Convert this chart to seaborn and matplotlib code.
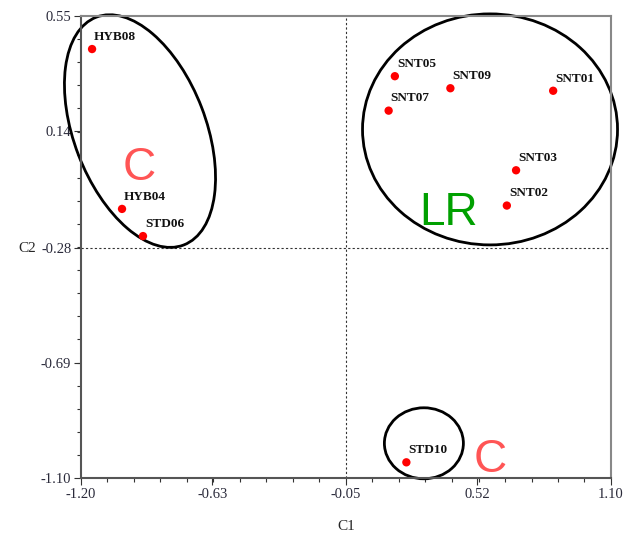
import numpy as np
import pandas as pd
import matplotlib
matplotlib.use('Agg')
import matplotlib.pyplot as plt
import matplotlib.transforms as mtransforms
from matplotlib.patches import Ellipse
import seaborn as sns

# du lieu doc tu hinh
labels = ['HYB08', 'HYB04', 'STD06', 'SNT05', 'SNT09', 'SNT01', 'SNT07', 'SNT03', 'SNT02', 'STD10']
c1 = [-1.152, -1.022, -0.931, 0.162, 0.403, 0.849, 0.135, 0.688, 0.648, 0.212]
c2 = [0.432, -0.139, -0.236, 0.335, 0.292, 0.283, 0.212, -0.001, -0.127, -1.044]

x_ticks = [-1.20, -0.63, -0.05, 0.52, 1.10]
y_ticks = [-1.10, -0.69, -0.28, 0.14, 0.55]

# nhom: tam (du lieu), kich thuoc (inch), goc
group_names = ['C', 'LR', 'C']
group_centers = [(-0.944, 0.139), (0.575, 0.145), (0.288, -0.976)]
group_sizes = [(2.44, 1.32), (2.55, 2.31), (0.79, 0.71)]
group_angles = [-69, 0, 0]
group_text_pos = [(-0.948, 0.007), (0.393, -0.152), (0.575, -1.036)]
group_colors = ['#FF5555', '#00A000', '#FF5555']

df = pd.DataFrame({'C1': c1, 'C2': c2, 'label': labels})

sns.set_style('white')
plt.rcParams['font.family'] = ['Liberation Serif', 'DejaVu Serif']

fig = plt.figure(figsize=(6.35, 5.33), dpi=100)
ax = fig.add_axes([81 / 635, 1 - 478 / 533, 530 / 635, 462 / 533])

sns.scatterplot(data=df, x='C1', y='C2', color='#FF0000', s=36, edgecolor='none', ax=ax, zorder=3)

for lb, x, y in zip(labels, c1, c2):
    ax.annotate(lb, (x, y), xytext=(1.5, 4.5), textcoords='offset points',
                fontsize=9.5, fontweight='bold', color='#111111', ha='left', va='bottom')

# duong cat
ax.axvline(-0.05, color='#333333', lw=0.8, ls=(0, (2, 2)), zorder=1)
ax.axhline(-0.28, color='#333333', lw=0.8, ls=(0, (2, 2)), zorder=1)

# ellipse cac nhom
for (cx, cy), (w, h), ang in zip(group_centers, group_sizes, group_angles):
    tr = fig.dpi_scale_trans + mtransforms.ScaledTranslation(cx, cy, ax.transData)
    ax.add_patch(Ellipse((0, 0), w, h, angle=ang, transform=tr, fill=False,
                         edgecolor='black', lw=2, zorder=2, clip_on=False))

for name, (tx, ty), col in zip(group_names, group_text_pos, group_colors):
    ax.text(tx, ty, name, color=col, fontsize=33, family='Liberation Sans',
            ha='center', va='center', zorder=4)

ax.set_xlim(-1.20, 1.10)
ax.set_ylim(-1.10, 0.55)
ax.set_xticks(x_ticks)
ax.set_xticklabels(['%.2f' % v for v in x_ticks])
ax.set_yticks(y_ticks)
ax.set_yticklabels(['%.2f' % v for v in y_ticks])
ax.set_xticks(np.linspace(-1.20, 1.10, 21), minor=True)
ax.set_yticks(np.linspace(-1.10, 0.55, 21), minor=True)
ax.tick_params(which='major', direction='out', length=5, width=0.8, color='#333333',
               labelsize=10.5, labelcolor='#2a2a3a', pad=2, bottom=True, left=True)
ax.tick_params(which='minor', direction='out', length=3, width=0.8, color='#333333',
               bottom=True, left=True)

for side in ['left', 'bottom']:
    ax.spines[side].set_color('#555555')
    ax.spines[side].set_linewidth(1.5)
for side in ['top', 'right']:
    ax.spines[side].set_color('#888888')
    ax.spines[side].set_linewidth(1.5)

ax.set_xlabel('C1', fontsize=11)
ax.set_ylabel('C2', fontsize=11, rotation=0)
ax.xaxis.set_label_coords(0.5, -0.09)
ax.yaxis.set_label_coords(-0.102, 0.497)
ax.yaxis.label.set_va('center')

fig.savefig('out.png', dpi=100)
